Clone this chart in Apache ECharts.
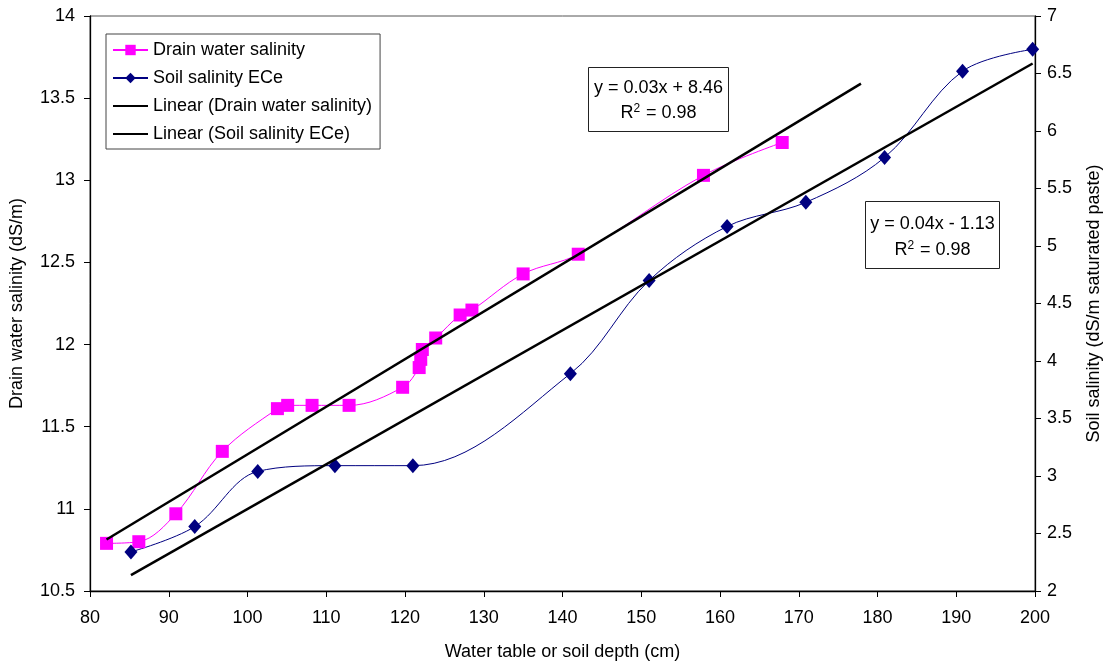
<!DOCTYPE html>
<html>
<head>
<meta charset="utf-8">
<script src="https://cdn.jsdelivr.net/npm/echarts@6/dist/echarts.min.js"></script>
<style>html,body{margin:0;padding:0;background:#fff}#c{width:1111px;height:666px}</style>
</head>
<body>
<div id="c"></div>
<script>
// Data
var drainDepth = [82.1, 86.2, 90.9, 96.8, 103.8, 105.1, 108.2, 112.9, 119.7, 121.8, 122.0, 122.2, 123.9, 127.0, 128.5, 135.0, 142.0, 157.9, 167.9];
var drainSalinity = [10.79, 10.80, 10.97, 11.35, 11.61, 11.63, 11.63, 11.63, 11.74, 11.86, 11.91, 11.97, 12.04, 12.18, 12.21, 12.43, 12.55, 13.03, 13.23];
var soilDepth = [85.2, 93.3, 101.3, 111.1, 121.0, 141.0, 151.0, 160.9, 170.9, 180.9, 190.8, 199.7];
var soilSalinity = [2.34, 2.56, 3.04, 3.09, 3.09, 3.89, 4.70, 5.17, 5.38, 5.77, 6.52, 6.71];
var drainEquation = ["y = 0.03x + 8.46", "0.98"];
var soilEquation = ["y = 0.04x - 1.13", "0.98"];
var drainForecast = 10; // forward forecast of the trendline (cm)

function zip(a, b) { return a.map(function (v, i) { return [v, b[i]]; }); }
function fit(xs, ys) {
  var n = xs.length, sx = 0, sy = 0, sxx = 0, sxy = 0;
  for (var i = 0; i < n; i++) { sx += xs[i]; sy += ys[i]; sxx += xs[i] * xs[i]; sxy += xs[i] * ys[i]; }
  var m = (n * sxy - sx * sy) / (n * sxx - sx * sx);
  return { m: m, b: (sy - m * sx) / n };
}
function trend(xs, ys, x0, x1) {
  var f = fit(xs, ys);
  return [[x0, f.m * x0 + f.b], [x1, f.m * x1 + f.b]];
}
var drainTrend = trend(drainDepth, drainSalinity, Math.min.apply(null, drainDepth), Math.max.apply(null, drainDepth) + drainForecast);
var soilTrend = trend(soilDepth, soilSalinity, Math.min.apply(null, soilDepth), Math.max.apply(null, soilDepth));

var FONT = "'Liberation Sans', Arial, sans-serif";
var FS = 18;
var eqRich = {
  t: { fontSize: FS, fontFamily: FONT, color: '#000' },
  s: { fontSize: 12, fontFamily: FONT, color: '#000', padding: [0, 1, 9, 0] }
};
function eqBox(left, top, w, h, lines, y1, y2) {
  return {
    type: 'group', left: left, top: top,
    children: [
      { type: 'rect', shape: { x: 0, y: 0, width: w, height: h }, style: { fill: '#fff', stroke: '#222', lineWidth: 1 } },
      { type: 'text', x: w / 2, y: y1, style: { text: '{t|' + lines[0] + '}', rich: eqRich, align: 'center', verticalAlign: 'middle' } },
      { type: 'text', x: w / 2, y: y2, style: { text: '{t|R}{s|2}{t| = ' + lines[1] + '}', rich: eqRich, align: 'center', verticalAlign: 'middle' } }
    ]
  };
}

var chart = echarts.init(document.getElementById('c'), null, { renderer: 'canvas' });
var axisLine = { show: true, lineStyle: { color: '#000', width: 1.3 } };
var noSym = { opacity: 0 };
chart.setOption({
  animation: false,
  backgroundColor: '#fff',
  textStyle: { fontFamily: FONT },
  grid: { left: 90, right: 72, top: 16, bottom: 70, containLabel: false, show: true, borderColor: '#555', borderWidth: 1, backgroundColor: 'transparent' },
  legend: {
    orient: 'vertical', left: 106, top: 34,
    padding: [7, 8, 6, 6], itemGap: 10,
    itemWidth: 35, itemHeight: 13,
    borderColor: '#444', borderWidth: 1, backgroundColor: '#fff',
    textStyle: { fontSize: FS, color: '#000', fontFamily: FONT },
    data: [
      { name: 'Drain water salinity' },
      { name: 'Soil salinity ECe' },
      { name: 'Linear (Drain water salinity)', itemStyle: noSym },
      { name: 'Linear (Soil salinity ECe)', itemStyle: noSym }
    ]
  },
  xAxis: {
    type: 'value', min: 80, max: 200, interval: 10,
    name: 'Water table or soil depth (cm)', nameLocation: 'middle', nameGap: 52,
    nameTextStyle: { fontSize: FS, color: '#000', fontFamily: FONT },
    axisLine: axisLine, axisTick: { show: true, length: 6, lineStyle: { color: '#000' } },
    axisLabel: { fontSize: FS, color: '#000', margin: 18, fontFamily: FONT },
    splitLine: { show: false }
  },
  yAxis: [{
    type: 'value', min: 10.5, max: 14, interval: 0.5, position: 'left',
    name: 'Drain water salinity (dS/m)', nameLocation: 'middle', nameGap: 64, nameRotate: 90,
    nameTextStyle: { fontSize: FS, color: '#000', fontFamily: FONT },
    axisLine: axisLine, axisTick: { show: true, length: 6, lineStyle: { color: '#000' } },
    axisLabel: { fontSize: FS, color: '#000', margin: 15, fontFamily: FONT },
    splitLine: { show: false }
  }, {
    type: 'value', min: 2, max: 7, interval: 0.5, position: 'right',
    name: 'Soil salinity (dS/m saturated paste)', nameLocation: 'middle', nameGap: 50, nameRotate: 90,
    nameTextStyle: { fontSize: FS, color: '#000', fontFamily: FONT },
    axisLine: axisLine, axisTick: { show: true, length: 6, lineStyle: { color: '#000' } },
    axisLabel: { fontSize: FS, color: '#000', margin: 12, fontFamily: FONT },
    splitLine: { show: false }
  }],
  series: [{
    name: 'Drain water salinity', type: 'line', yAxisIndex: 0,
    data: zip(drainDepth, drainSalinity), smooth: 0.35,
    symbol: 'rect', symbolSize: 13,
    lineStyle: { color: '#FF00FF', width: 1 }, itemStyle: { color: '#FF00FF' }, color: '#FF00FF'
  }, {
    name: 'Soil salinity ECe', type: 'line', yAxisIndex: 1,
    data: zip(soilDepth, soilSalinity), smooth: 0.35,
    symbol: 'diamond', symbolSize: [13, 15],
    lineStyle: { color: '#000080', width: 1 }, itemStyle: { color: '#000080' }, color: '#000080'
  }, {
    name: 'Linear (Drain water salinity)', type: 'line', yAxisIndex: 0,
    data: drainTrend, symbol: 'none', z: 5,
    lineStyle: { color: '#000', width: 2.5 }, itemStyle: { color: '#000' }, color: '#000'
  }, {
    name: 'Linear (Soil salinity ECe)', type: 'line', yAxisIndex: 1,
    data: soilTrend, symbol: 'none', z: 5,
    lineStyle: { color: '#000', width: 2.5 }, itemStyle: { color: '#000' }, color: '#000'
  }],
  graphic: [
    eqBox(588, 67, 140, 64, drainEquation, 21, 46),
    eqBox(865, 201, 134, 67, soilEquation, 23, 49)
  ]
});
</script>
</body>
</html>
